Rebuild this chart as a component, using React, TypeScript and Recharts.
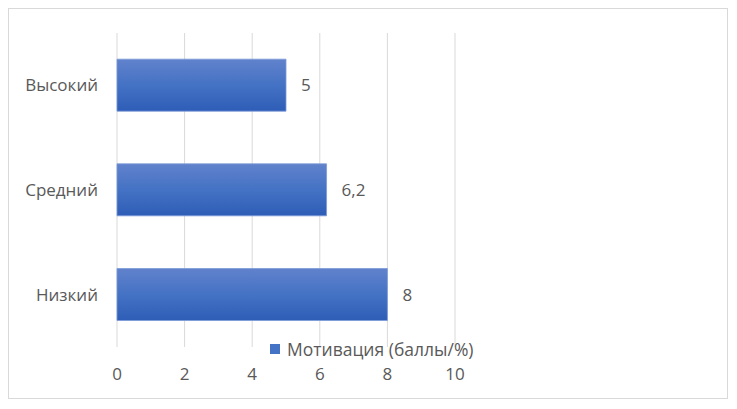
import React from 'react';
import { BarChart, Bar, XAxis, YAxis, CartesianGrid, Legend, LabelList } from 'recharts';

const categories = ['Высокий', 'Средний', 'Низкий'];
const motivation = [5, 6.2, 8];
const xTicks = [0, 2, 4, 6, 8, 10];

const data = categories.map((level, i) => ({ level, value: motivation[i] }));

const FONT = '"Open Sans", "Noto Sans", sans-serif';
const TEXT = '#595959';

const LegendBox = () => (
  <div style={{ display: 'flex', alignItems: 'center', fontFamily: FONT, fontSize: 17.5, color: TEXT, whiteSpace: 'nowrap' }}>
    <span style={{ display: 'inline-block', width: 10, height: 10, background: '#4472c4', marginRight: 7 }} />
    <span>Мотивация (баллы/%)</span>
  </div>
);

export default function App() {
  return (
    <div
      style={{
        width: 720,
        height: 391,
        boxSizing: 'border-box',
        border: '1px solid #d9d9d9',
        background: '#fff',
        position: 'relative',
      }}
    >
      <BarChart
        width={718}
        height={389}
        data={data}
        layout="vertical"
        margin={{ top: 24, right: 272, bottom: 21, left: 0 }}
        barCategoryGap="25%"
      >
        <defs>
          <linearGradient id="barFill" x1="0" y1="0" x2="0" y2="1">
            <stop offset="0%" stopColor="#6182cc" />
            <stop offset="50%" stopColor="#4472c4" />
            <stop offset="100%" stopColor="#2e5db7" />
          </linearGradient>
        </defs>
        <CartesianGrid horizontal={false} stroke="#d9d9d9" strokeWidth={1} />
        <XAxis
          type="number"
          domain={[0, 10]}
          ticks={xTicks}
          axisLine={false}
          tickLine={false}
          tickMargin={15}
          height={30}
          tick={{ fill: TEXT, fontSize: 17, fontFamily: FONT }}
        />
        <YAxis
          type="category"
          dataKey="level"
          width={108}
          axisLine={false}
          tickLine={false}
          tickMargin={13}
          tick={{ fill: TEXT, fontSize: 17, fontFamily: FONT }}
        />
        <Legend
          layout="horizontal"
          verticalAlign="middle"
          align="center"
          content={<LegendBox />}
          wrapperStyle={{ position: 'absolute', left: 261, top: 328, width: 'auto', height: 'auto' }}
        />
        <Bar
          dataKey="value"
          name="Мотивация (баллы/%)"
          fill="url(#barFill)"
          stroke="#7b9bd8"
          strokeWidth={0.8}
          isAnimationActive={false}
        >
          <LabelList
            dataKey="value"
            position="right"
            offset={15}
            formatter={(v: any) => String(v).replace('.', ',')}
            style={{ fill: TEXT, fontSize: 17, fontFamily: FONT }}
          />
        </Bar>
      </BarChart>
    </div>
  );
}
